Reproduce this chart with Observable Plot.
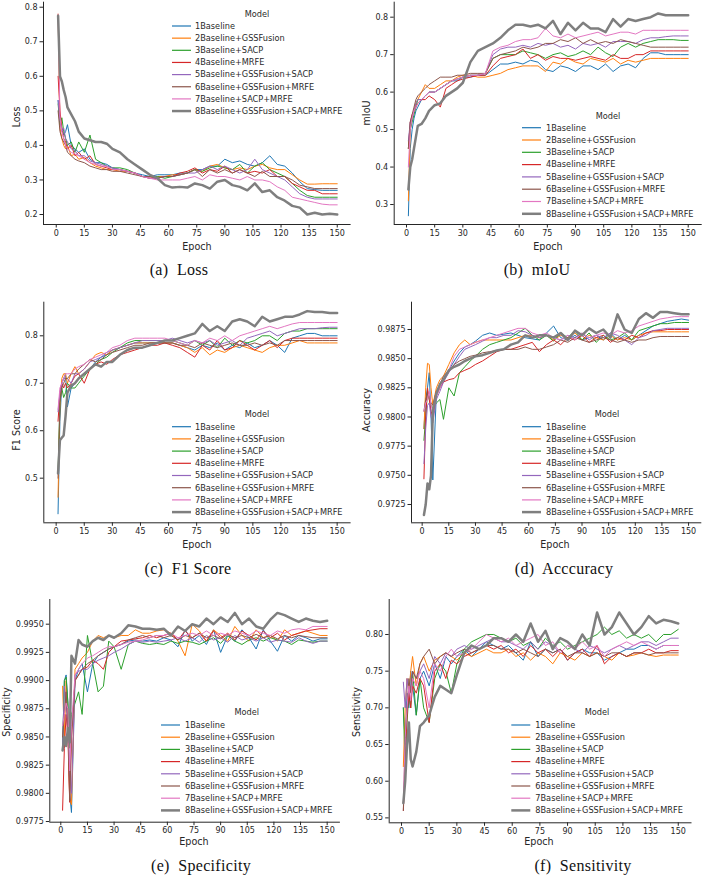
<!DOCTYPE html>
<html><head><meta charset="utf-8">
<script src="https://cdn.jsdelivr.net/npm/d3@7"></script>
<script src="https://cdn.jsdelivr.net/npm/@observablehq/plot@0.6"></script>
<style>
body{margin:0;background:#fff;}
#root{position:relative;width:704px;height:883px;overflow:hidden;font-family:"DejaVu Sans",sans-serif;color:#262626;}
.abs{position:absolute;}
.axl{position:absolute;font-size:9.6px;white-space:nowrap;line-height:1;}
.cap{position:absolute;font-family:"Liberation Serif",serif;font-size:16px;white-space:pre;line-height:1;color:#111;letter-spacing:0.3px;}
</style></head>
<body><div id="root"></div>
<script>
// ---------- data ----------
const epochs = [1,2,3,4,5,6,8,10,12,15,18,21,24,27,30,34,38,42,46,50,54,58,62,66,70,74,78,82,86,90,94,98,102,106,110,114,118,122,126,130,134,138,142,146,150];
const models = ["1Baseline","2Baseline+GSSFusion","3Baseline+SACP","4Baseline+MRFE","5Baseline+GSSFusion+SACP","6Baseline+GSSFusion+MRFE","7Baseline+SACP+MRFE","8Baseline+GSSFusion+SACP+MRFE"];
const colors = ["#1f77b4","#ff7f0e","#2ca02c","#d62728","#9467bd","#8c564b","#e377c2","#7f7f7f"];
const xTicks = [0,15,30,45,60,75,90,105,120,135,150];

// (a) Loss
const loss1 = [0.53,0.47,0.45,0.43,0.44,0.46,0.40,0.39,0.38,0.39,0.36,0.35,0.35,0.345,0.335,0.33,0.325,0.32,0.315,0.31,0.315,0.315,0.315,0.32,0.32,0.33,0.33,0.34,0.34,0.36,0.35,0.355,0.345,0.34,0.35,0.37,0.345,0.34,0.32,0.295,0.275,0.272,0.27,0.27,0.27];
const loss2 = [0.78,0.45,0.42,0.40,0.39,0.40,0.37,0.375,0.36,0.365,0.35,0.34,0.335,0.33,0.33,0.325,0.325,0.32,0.31,0.305,0.31,0.31,0.315,0.315,0.32,0.33,0.325,0.34,0.345,0.335,0.33,0.335,0.33,0.34,0.345,0.335,0.33,0.33,0.315,0.30,0.288,0.288,0.289,0.289,0.289];
const loss3 = [0.52,0.46,0.48,0.44,0.42,0.40,0.41,0.38,0.41,0.38,0.43,0.36,0.35,0.34,0.335,0.335,0.33,0.32,0.31,0.31,0.31,0.305,0.31,0.315,0.32,0.33,0.325,0.335,0.34,0.335,0.33,0.345,0.32,0.34,0.35,0.33,0.32,0.31,0.29,0.27,0.255,0.25,0.25,0.25,0.25];
const loss4 = [0.60,0.50,0.45,0.42,0.41,0.39,0.40,0.37,0.38,0.36,0.37,0.345,0.34,0.335,0.33,0.33,0.325,0.32,0.31,0.305,0.305,0.31,0.31,0.32,0.325,0.335,0.32,0.33,0.325,0.34,0.32,0.33,0.32,0.325,0.32,0.33,0.31,0.31,0.29,0.28,0.27,0.27,0.26,0.26,0.26];
const loss5 = [0.53,0.47,0.44,0.45,0.42,0.41,0.39,0.385,0.37,0.37,0.355,0.35,0.345,0.34,0.335,0.33,0.325,0.32,0.31,0.305,0.305,0.31,0.31,0.315,0.32,0.32,0.33,0.34,0.33,0.34,0.33,0.32,0.33,0.36,0.33,0.32,0.31,0.30,0.28,0.26,0.25,0.245,0.245,0.245,0.245];
const loss6 = [0.50,0.44,0.42,0.41,0.40,0.38,0.37,0.36,0.355,0.35,0.34,0.335,0.33,0.33,0.325,0.325,0.32,0.315,0.31,0.31,0.305,0.31,0.31,0.315,0.32,0.33,0.31,0.33,0.32,0.33,0.32,0.33,0.32,0.31,0.325,0.31,0.31,0.31,0.30,0.285,0.28,0.275,0.275,0.275,0.275];
const loss7 = [0.78,0.48,0.44,0.42,0.40,0.39,0.38,0.375,0.37,0.36,0.35,0.345,0.34,0.34,0.33,0.33,0.325,0.32,0.31,0.305,0.30,0.30,0.30,0.30,0.305,0.31,0.30,0.315,0.31,0.31,0.305,0.30,0.31,0.30,0.30,0.295,0.28,0.27,0.25,0.245,0.24,0.235,0.23,0.228,0.228];
const loss8 = [0.775,0.60,0.585,0.56,0.54,0.51,0.49,0.47,0.44,0.42,0.415,0.41,0.41,0.405,0.39,0.38,0.36,0.345,0.33,0.315,0.305,0.285,0.278,0.28,0.278,0.29,0.285,0.275,0.295,0.30,0.285,0.28,0.27,0.29,0.265,0.27,0.25,0.24,0.225,0.22,0.20,0.205,0.20,0.202,0.20];

// (b) mIoU
const miou1 = [0.27,0.45,0.50,0.53,0.55,0.56,0.58,0.59,0.60,0.60,0.61,0.62,0.63,0.63,0.64,0.64,0.645,0.645,0.66,0.675,0.675,0.68,0.675,0.685,0.68,0.66,0.655,0.67,0.665,0.655,0.67,0.67,0.66,0.675,0.655,0.67,0.675,0.665,0.69,0.705,0.705,0.70,0.70,0.70,0.70];
const miou2 = [0.31,0.50,0.53,0.55,0.57,0.58,0.60,0.62,0.61,0.61,0.62,0.63,0.63,0.64,0.645,0.645,0.64,0.64,0.645,0.65,0.66,0.665,0.67,0.67,0.67,0.655,0.68,0.675,0.69,0.68,0.675,0.69,0.685,0.68,0.69,0.675,0.685,0.68,0.685,0.69,0.69,0.69,0.69,0.69,0.69];
const miou3 = [0.45,0.50,0.52,0.54,0.56,0.58,0.58,0.59,0.60,0.60,0.61,0.62,0.63,0.635,0.64,0.645,0.645,0.65,0.69,0.70,0.70,0.70,0.71,0.705,0.70,0.69,0.70,0.705,0.695,0.70,0.71,0.70,0.72,0.705,0.695,0.72,0.73,0.72,0.73,0.735,0.74,0.74,0.74,0.738,0.738];
const miou4 = [0.45,0.52,0.54,0.55,0.56,0.57,0.58,0.58,0.59,0.58,0.56,0.61,0.62,0.63,0.635,0.64,0.645,0.645,0.67,0.69,0.695,0.70,0.715,0.69,0.70,0.685,0.695,0.69,0.69,0.685,0.69,0.695,0.69,0.685,0.70,0.69,0.69,0.70,0.70,0.71,0.71,0.71,0.71,0.71,0.71];
const miou5 = [0.47,0.52,0.53,0.55,0.57,0.58,0.58,0.59,0.60,0.60,0.61,0.62,0.63,0.635,0.64,0.645,0.645,0.65,0.70,0.715,0.72,0.72,0.725,0.72,0.73,0.725,0.73,0.72,0.725,0.715,0.73,0.725,0.73,0.72,0.735,0.735,0.735,0.73,0.74,0.745,0.745,0.748,0.75,0.75,0.75];
const miou6 = [0.45,0.52,0.54,0.56,0.58,0.59,0.60,0.61,0.62,0.63,0.64,0.64,0.64,0.645,0.645,0.65,0.65,0.65,0.69,0.70,0.705,0.71,0.72,0.715,0.72,0.73,0.73,0.74,0.735,0.745,0.73,0.74,0.73,0.735,0.73,0.74,0.735,0.73,0.725,0.72,0.72,0.72,0.72,0.72,0.72];
const miou7 = [0.40,0.50,0.53,0.55,0.56,0.57,0.58,0.59,0.60,0.60,0.61,0.62,0.63,0.635,0.64,0.645,0.645,0.65,0.71,0.72,0.725,0.735,0.74,0.74,0.745,0.77,0.75,0.745,0.755,0.745,0.75,0.755,0.76,0.75,0.755,0.76,0.76,0.755,0.765,0.765,0.765,0.765,0.765,0.765,0.765];
const miou8 = [0.34,0.40,0.42,0.45,0.48,0.51,0.515,0.53,0.55,0.565,0.57,0.59,0.60,0.61,0.625,0.68,0.71,0.72,0.73,0.745,0.765,0.78,0.78,0.775,0.78,0.77,0.79,0.755,0.785,0.765,0.785,0.77,0.77,0.76,0.795,0.775,0.795,0.79,0.795,0.80,0.81,0.805,0.805,0.805,0.805];

// (c) F1 Score
const f1_1 = [0.425,0.62,0.70,0.71,0.72,0.65,0.69,0.70,0.71,0.72,0.73,0.745,0.755,0.76,0.77,0.775,0.78,0.785,0.785,0.785,0.785,0.785,0.785,0.78,0.775,0.77,0.78,0.775,0.785,0.77,0.78,0.775,0.785,0.775,0.78,0.79,0.78,0.765,0.795,0.80,0.805,0.805,0.80,0.80,0.80];
const f1_2 = [0.46,0.65,0.71,0.72,0.72,0.70,0.72,0.735,0.72,0.73,0.745,0.76,0.765,0.76,0.77,0.775,0.78,0.785,0.785,0.785,0.785,0.785,0.785,0.78,0.775,0.765,0.775,0.76,0.77,0.765,0.775,0.78,0.775,0.77,0.765,0.775,0.78,0.78,0.785,0.79,0.785,0.785,0.785,0.785,0.785];
const f1_3 = [0.51,0.66,0.69,0.67,0.68,0.70,0.69,0.69,0.70,0.715,0.73,0.74,0.75,0.755,0.765,0.775,0.785,0.79,0.79,0.79,0.79,0.79,0.79,0.785,0.78,0.79,0.78,0.79,0.775,0.795,0.78,0.79,0.785,0.79,0.80,0.80,0.79,0.805,0.81,0.81,0.815,0.815,0.815,0.815,0.815];
const f1_4 = [0.62,0.68,0.70,0.69,0.70,0.69,0.70,0.715,0.72,0.70,0.73,0.74,0.745,0.74,0.75,0.76,0.765,0.77,0.775,0.78,0.78,0.785,0.78,0.775,0.765,0.755,0.78,0.77,0.79,0.77,0.775,0.79,0.78,0.77,0.78,0.79,0.775,0.79,0.795,0.795,0.795,0.795,0.795,0.795,0.795];
const f1_5 = [0.64,0.68,0.70,0.71,0.71,0.71,0.70,0.72,0.72,0.73,0.745,0.75,0.755,0.765,0.77,0.775,0.78,0.785,0.79,0.79,0.79,0.79,0.795,0.79,0.785,0.79,0.785,0.79,0.78,0.785,0.79,0.78,0.795,0.80,0.805,0.81,0.80,0.805,0.81,0.815,0.815,0.815,0.817,0.818,0.818];
const f1_6 = [0.50,0.66,0.69,0.70,0.71,0.71,0.72,0.72,0.73,0.74,0.75,0.745,0.75,0.76,0.765,0.77,0.775,0.78,0.78,0.785,0.785,0.785,0.785,0.78,0.78,0.775,0.785,0.78,0.775,0.78,0.785,0.78,0.78,0.785,0.78,0.785,0.78,0.79,0.79,0.79,0.79,0.79,0.79,0.79,0.79];
const f1_7 = [0.645,0.69,0.70,0.71,0.72,0.72,0.72,0.73,0.735,0.74,0.75,0.755,0.76,0.765,0.775,0.78,0.79,0.795,0.795,0.795,0.795,0.795,0.79,0.785,0.78,0.79,0.785,0.795,0.79,0.80,0.79,0.80,0.805,0.81,0.815,0.82,0.815,0.82,0.825,0.828,0.828,0.828,0.828,0.828,0.828];
const f1_8 = [0.51,0.58,0.585,0.59,0.63,0.68,0.695,0.70,0.71,0.72,0.73,0.74,0.735,0.745,0.745,0.76,0.77,0.775,0.775,0.78,0.785,0.79,0.79,0.795,0.80,0.805,0.825,0.81,0.82,0.81,0.83,0.835,0.83,0.82,0.84,0.83,0.835,0.84,0.84,0.845,0.852,0.85,0.85,0.848,0.848];

// (d) Accuracy
const acc1 = [0.9790,0.9815,0.9825,0.9838,0.9800,0.9746,0.9820,0.9828,0.9832,0.9840,0.9848,0.9855,0.9860,0.9862,0.9865,0.9870,0.9872,0.9870,0.9871,0.9872,0.9870,0.9868,0.9867,0.9866,0.9872,0.9878,0.9868,0.9866,0.9870,0.9866,0.9868,0.9870,0.9866,0.9872,0.9866,0.9870,0.9866,0.9870,0.9874,0.9878,0.9880,0.9882,0.9883,0.9884,0.9883];
const acc2 = [0.9790,0.9825,0.9846,0.9845,0.9825,0.9810,0.9825,0.9832,0.9835,0.9845,0.9855,0.9862,0.9866,0.9862,0.9864,0.9866,0.9866,0.9866,0.9866,0.9866,0.9868,0.9870,0.9870,0.9868,0.9870,0.9866,0.9870,0.9868,0.9872,0.9866,0.9870,0.9868,0.9866,0.9870,0.9866,0.9868,0.9866,0.9870,0.9872,0.9873,0.9873,0.9873,0.9873,0.9873,0.9873];
const acc3 = [0.9780,0.9800,0.9822,0.9815,0.9810,0.9808,0.9812,0.9815,0.9798,0.9825,0.9818,0.9838,0.9843,0.9848,0.9852,0.9858,0.9862,0.9864,0.9866,0.9868,0.9872,0.9876,0.9870,0.9866,0.9870,0.9865,0.9872,0.9868,0.9874,0.9866,0.9872,0.9864,0.9870,0.9866,0.9868,0.9872,0.9866,0.9874,0.9876,0.9878,0.9880,0.9880,0.9881,0.9881,0.9881];
const acc4 = [0.9747,0.9800,0.9825,0.9815,0.9805,0.9800,0.9818,0.9825,0.9830,0.9832,0.9833,0.9838,0.9840,0.9842,0.9845,0.9848,0.9852,0.9856,0.9858,0.9858,0.9860,0.9862,0.9864,0.9856,0.9862,0.9866,0.9862,0.9868,0.9866,0.9870,0.9864,0.9868,0.9870,0.9864,0.9868,0.9866,0.9870,0.9868,0.9872,0.9874,0.9874,0.9875,0.9875,0.9875,0.9875];
const acc5 = [0.9760,0.9790,0.9810,0.9812,0.9800,0.9795,0.9815,0.9822,0.9830,0.9838,0.9845,0.9852,0.9858,0.9860,0.9862,0.9865,0.9868,0.9868,0.9870,0.9870,0.9874,0.9873,0.9870,0.9868,0.9870,0.9868,0.9866,0.9870,0.9868,0.9872,0.9866,0.9870,0.9868,0.9872,0.9870,0.9866,0.9862,0.9868,0.9870,0.9874,0.9875,0.9876,0.9876,0.9876,0.9876];
const acc6 = [0.9805,0.9815,0.9820,0.9818,0.9812,0.9810,0.9822,0.9828,0.9835,0.9840,0.9845,0.9848,0.9850,0.9852,0.9853,0.9855,0.9856,0.9857,0.9858,0.9858,0.9858,0.9860,0.9858,0.9858,0.9860,0.9862,0.9866,0.9864,0.9868,0.9866,0.9864,0.9866,0.9868,0.9866,0.9864,0.9866,0.9864,0.9866,0.9866,0.9868,0.9869,0.9869,0.9869,0.9869,0.9869];
const acc7 = [0.9805,0.9812,0.9815,0.9822,0.9810,0.9805,0.9818,0.9825,0.9832,0.9840,0.9852,0.9858,0.9860,0.9862,0.9864,0.9866,0.9868,0.9870,0.9872,0.9874,0.9876,0.9876,0.9872,0.9870,0.9872,0.9868,0.9866,0.9870,0.9866,0.9872,0.9868,0.9870,0.9872,0.9870,0.9874,0.9872,0.9874,0.9878,0.9880,0.9882,0.9884,0.9885,0.9886,0.9886,0.9886];
const acc8 = [0.9716,0.9725,0.9743,0.9738,0.9750,0.9805,0.9820,0.9828,0.9832,0.9840,0.9843,0.9845,0.9848,0.9850,0.9852,0.9853,0.9855,0.9857,0.9858,0.9862,0.9864,0.9870,0.9868,0.9870,0.9870,0.9868,0.9872,0.9866,0.9874,0.9870,0.9876,0.9872,0.9875,0.9868,0.9888,0.9875,0.9872,0.9884,0.9889,0.9885,0.9890,0.9890,0.9889,0.9888,0.9888];

// (e) Specificity
const spec1 = [0.9840,0.9900,0.9905,0.9880,0.9800,0.9783,0.9900,0.9910,0.9915,0.9890,0.9915,0.9922,0.9925,0.9928,0.9930,0.9932,0.9935,0.9936,0.9935,0.9936,0.9935,0.9938,0.9936,0.9930,0.9945,0.9935,0.9940,0.9932,0.9945,0.9925,0.9940,0.9935,0.9945,0.9938,0.9928,0.9945,0.9935,0.9926,0.9940,0.9935,0.9940,0.9938,0.9935,0.9937,0.9937];
const spec2 = [0.9895,0.9850,0.9900,0.9860,0.9795,0.9790,0.9910,0.9915,0.9920,0.9925,0.9935,0.9940,0.9938,0.9940,0.9938,0.9940,0.9940,0.9945,0.9942,0.9942,0.9944,0.9945,0.9942,0.9935,0.9922,0.9950,0.9944,0.9935,0.9945,0.9940,0.9935,0.9948,0.9940,0.9935,0.9945,0.9938,0.9940,0.9935,0.9945,0.9940,0.9942,0.9944,0.9942,0.9940,0.9940];
const spec3 = [0.9840,0.9900,0.9903,0.9880,0.9840,0.9870,0.9880,0.9890,0.9870,0.9940,0.9915,0.9890,0.9895,0.9935,0.9930,0.9910,0.9932,0.9935,0.9933,0.9932,0.9933,0.9932,0.9935,0.9933,0.9935,0.9934,0.9932,0.9935,0.9938,0.9933,0.9940,0.9935,0.9932,0.9936,0.9938,0.9935,0.9938,0.9936,0.9935,0.9932,0.9936,0.9935,0.9934,0.9935,0.9935];
const spec4 = [0.9785,0.9840,0.9870,0.9850,0.9792,0.9850,0.9900,0.9905,0.9910,0.9912,0.9918,0.9915,0.9910,0.9925,0.9930,0.9935,0.9936,0.9937,0.9938,0.9940,0.9938,0.9940,0.9942,0.9936,0.9944,0.9938,0.9942,0.9935,0.9944,0.9938,0.9942,0.9936,0.9944,0.9940,0.9936,0.9944,0.9938,0.9942,0.9936,0.9940,0.9942,0.9944,0.9945,0.9946,0.9946];
const spec5 = [0.9840,0.9895,0.9880,0.9855,0.9820,0.9800,0.9905,0.9908,0.9910,0.9910,0.9915,0.9918,0.9920,0.9922,0.9925,0.9928,0.9932,0.9935,0.9934,0.9935,0.9934,0.9935,0.9936,0.9938,0.9935,0.9938,0.9934,0.9940,0.9936,0.9938,0.9934,0.9940,0.9936,0.9938,0.9935,0.9938,0.9934,0.9936,0.9935,0.9934,0.9938,0.9935,0.9933,0.9935,0.9935];
const spec6 = [0.9850,0.9870,0.9890,0.9860,0.9793,0.9850,0.9900,0.9905,0.9910,0.9915,0.9918,0.9922,0.9925,0.9928,0.9930,0.9932,0.9936,0.9938,0.9940,0.9938,0.9940,0.9938,0.9940,0.9936,0.9940,0.9938,0.9942,0.9938,0.9940,0.9937,0.9941,0.9938,0.9940,0.9938,0.9941,0.9938,0.9940,0.9937,0.9940,0.9938,0.9940,0.9939,0.9938,0.9938,0.9938];
const spec7 = [0.9860,0.9870,0.9880,0.9875,0.9820,0.9860,0.9905,0.9910,0.9915,0.9920,0.9922,0.9925,0.9928,0.9930,0.9930,0.9932,0.9934,0.9935,0.9936,0.9938,0.9940,0.9940,0.9942,0.9938,0.9940,0.9942,0.9940,0.9944,0.9940,0.9942,0.9940,0.9944,0.9942,0.9940,0.9944,0.9942,0.9940,0.9944,0.9942,0.9945,0.9946,0.9945,0.9948,0.9948,0.9948];
const spec8 = [0.9838,0.9850,0.9842,0.9858,0.9845,0.9922,0.9915,0.9936,0.9932,0.9930,0.9935,0.9938,0.9936,0.9940,0.9938,0.9942,0.9949,0.9948,0.9946,0.9946,0.9945,0.9946,0.9940,0.9948,0.9944,0.9950,0.9948,0.9955,0.9950,0.9956,0.9952,0.9960,0.9950,0.9955,0.9948,0.9946,0.9954,0.9960,0.9958,0.9955,0.9952,0.9955,0.9953,0.9952,0.9953];

// (f) Sensitivity
const sens1 = [0.70,0.65,0.72,0.70,0.75,0.73,0.69,0.74,0.75,0.73,0.76,0.74,0.77,0.76,0.77,0.78,0.77,0.78,0.79,0.785,0.78,0.785,0.775,0.765,0.79,0.77,0.78,0.775,0.78,0.765,0.775,0.78,0.775,0.775,0.765,0.77,0.775,0.78,0.78,0.785,0.785,0.78,0.785,0.785,0.785];
const sens2 = [0.62,0.70,0.74,0.72,0.75,0.77,0.73,0.76,0.77,0.75,0.765,0.77,0.775,0.77,0.765,0.775,0.77,0.775,0.78,0.775,0.775,0.78,0.77,0.775,0.765,0.775,0.77,0.76,0.775,0.77,0.765,0.775,0.77,0.775,0.77,0.765,0.775,0.77,0.772,0.775,0.772,0.77,0.772,0.772,0.772];
const sens3 = [0.70,0.62,0.68,0.72,0.70,0.75,0.69,0.74,0.70,0.68,0.74,0.76,0.75,0.72,0.76,0.78,0.79,0.795,0.80,0.80,0.795,0.79,0.795,0.785,0.79,0.78,0.795,0.785,0.79,0.78,0.785,0.79,0.795,0.80,0.81,0.80,0.805,0.795,0.80,0.795,0.80,0.79,0.80,0.80,0.807];
const sens4 = [0.56,0.62,0.69,0.72,0.70,0.73,0.72,0.74,0.73,0.68,0.75,0.76,0.74,0.765,0.76,0.77,0.775,0.78,0.785,0.78,0.785,0.775,0.78,0.77,0.785,0.775,0.78,0.77,0.78,0.765,0.775,0.78,0.77,0.785,0.76,0.77,0.775,0.77,0.775,0.775,0.78,0.775,0.775,0.778,0.778];
const sens5 = [0.735,0.70,0.74,0.72,0.73,0.75,0.74,0.75,0.76,0.74,0.77,0.76,0.775,0.77,0.78,0.785,0.78,0.785,0.79,0.795,0.79,0.79,0.785,0.78,0.79,0.78,0.79,0.785,0.775,0.785,0.78,0.775,0.785,0.78,0.775,0.78,0.785,0.78,0.785,0.79,0.79,0.785,0.79,0.795,0.795];
const sens6 = [0.56,0.66,0.70,0.74,0.72,0.75,0.74,0.76,0.77,0.78,0.76,0.77,0.775,0.77,0.775,0.78,0.775,0.78,0.785,0.785,0.78,0.78,0.775,0.78,0.775,0.77,0.78,0.775,0.78,0.77,0.775,0.775,0.77,0.775,0.77,0.775,0.775,0.77,0.775,0.775,0.772,0.775,0.775,0.775,0.775];
const sens7 = [0.57,0.66,0.70,0.73,0.71,0.74,0.73,0.75,0.74,0.70,0.76,0.75,0.77,0.78,0.77,0.775,0.78,0.79,0.80,0.795,0.79,0.795,0.785,0.79,0.795,0.80,0.785,0.79,0.775,0.785,0.78,0.79,0.78,0.785,0.77,0.78,0.785,0.79,0.785,0.79,0.785,0.78,0.785,0.785,0.785];
const sens8 = [0.57,0.60,0.65,0.68,0.63,0.62,0.64,0.675,0.68,0.69,0.715,0.73,0.725,0.72,0.745,0.775,0.785,0.78,0.785,0.795,0.795,0.79,0.80,0.79,0.815,0.79,0.805,0.78,0.795,0.79,0.78,0.80,0.785,0.83,0.80,0.81,0.83,0.815,0.80,0.81,0.825,0.815,0.82,0.818,0.815];

// tick labels
const lossTicks = [0.2,0.3,0.4,0.5,0.6,0.7,0.8];
const miouTicks = [0.3,0.4,0.5,0.6,0.7,0.8];
const f1Ticks = [0.5,0.6,0.7,0.8];
const accTicks = [0.9725,0.975,0.9775,0.98,0.9825,0.985,0.9875];
const specTicks = [0.9775,0.98,0.9825,0.985,0.9875,0.99,0.9925,0.995];
const sensTicks = [0.55,0.6,0.65,0.7,0.75,0.8];

// ---------- layout ----------
const panels = [
  {series:[loss1,loss2,loss3,loss4,loss5,loss6,loss7,loss8], ticks:lossTicks, fmt:".1f", ylabel:"Loss", caption:"(a)  Loss",
   left:0, top:0, w:352, h:260, mL:43, mR:1.4, mT:1.7, mB:36, xd:[-6.8,157.4], yd:[0.1711,0.8145],
   yl:[17,117], xl:[197,247], cap:[179,270], lg:{tx:257,ty:14,ry:26,dy:12.15,s0:172,s1:191,t:195}},
  {series:[miou1,miou2,miou3,miou4,miou5,miou6,miou7,miou8], ticks:miouTicks, fmt:".1f", ylabel:"mIoU", caption:"(b)  mIoU",
   left:352, top:0, w:352, h:260, mL:41.7, mR:2.3, mT:1.7, mB:36, xd:[-6.55,157.45], yd:[0.2467,0.840],
   yl:[367,113], xl:[548,247], cap:[537,270], lg:{tx:608,ty:116,ry:127.7,dy:12.3,s0:522,s1:541,t:546}},
  {series:[f1_1,f1_2,f1_3,f1_4,f1_5,f1_6,f1_7,f1_8], ticks:f1Ticks, fmt:".1f", ylabel:"F1 Score", caption:"(c)  F1 Score",
   left:0, top:290, w:352, h:270, mL:43.3, mR:1.4, mT:11.7, mB:37.7, xd:[-6.6,157.45], yd:[0.406,0.8708],
   yl:[17,430], xl:[197,545], cap:[188,569], lg:{tx:257,ty:414.3,ry:426.7,dy:12.2,s0:172,s1:191,t:195}},
  {series:[acc1,acc2,acc3,acc4,acc5,acc6,acc7,acc8], ticks:accTicks, fmt:".4f", ylabel:"Accuracy", caption:"(d)  Acccuracy",
   left:352, top:290, w:352, h:270, mL:59, mR:2.7, mT:11.7, mB:37.7, xd:[-6.0,157.45], yd:[0.97093,0.98984],
   yl:[367,410], xl:[555,545], cap:[564,569], lg:{tx:607,ty:414.3,ry:426.7,dy:12.2,s0:522,s1:541,t:546}},
  {series:[spec1,spec2,spec3,spec4,spec5,spec6,spec7,spec8], ticks:specTicks, fmt:".4f", ylabel:"Specificity", caption:"(e)  Specificity",
   left:0, top:585, w:352, h:270, mL:49.3, mR:12.1, mT:14, mB:33.3, xd:[-6.2,157.45], yd:[0.97744,0.99719],
   yl:[7,712], xl:[194,842], cap:[201,866], lg:{tx:246.7,ty:712.3,ry:725,dy:12.2,s0:161,s1:180,t:185}},
  {series:[sens1,sens2,sens3,sens4,sens5,sens6,sens7,sens8], ticks:sensTicks, fmt:".2f", ylabel:"Sensitivity", caption:"(f)  Sensitivity",
   left:352, top:585, w:352, h:270, mL:36.7, mR:12.5, mT:14, mB:32.7, xd:[-6.67,157.45], yd:[0.5433,0.8477],
   yl:[357,712], xl:[539,842], cap:[583,866], lg:{tx:597,ty:712.3,ry:725,dy:12.2,s0:511.3,s1:530.3,t:535.3}}
];

const root = document.getElementById("root");
function el(cls, css, text){
  const d = document.createElement("div");
  d.className = cls;
  Object.assign(d.style, css);
  if (text != null) d.textContent = text;
  root.appendChild(d);
  return d;
}
const ink = "#262626";

for (const p of panels){
  const marks = [
    Plot.ruleX([p.xd[0]], {stroke: ink, strokeWidth: 1}),
    Plot.ruleY([p.yd[0]], {stroke: ink, strokeWidth: 1}),
    Plot.axisX({ticks: xTicks, tickSize: 3.5, tickPadding: 2, tickFormat: d3.format("d"), label: null}),
    Plot.axisY({ticks: p.ticks, tickSize: 3.5, tickPadding: 2.5, tickFormat: d3.format(p.fmt), label: null})
  ];
  p.series.forEach((vals, i) => {
    const data = epochs.map((e, j) => ({epoch: e, value: vals[j]}));
    marks.push(Plot.line(data, {x: "epoch", y: "value", stroke: colors[i], strokeWidth: i === 7 ? 2.5 : 1}));
  });
  const svg = Plot.plot({
    width: p.w, height: p.h,
    marginLeft: p.mL, marginRight: p.mR, marginTop: p.mT, marginBottom: p.mB,
    style: {fontFamily: "DejaVu Sans", fontSize: "8px", color: ink, background: "transparent", overflow: "visible"},
    x: {domain: p.xd},
    y: {domain: p.yd},
    marks
  });
  const wrap = el("abs", {left: p.left + "px", top: p.top + "px"});
  wrap.appendChild(svg);

  el("axl", {left: p.yl[0] + "px", top: p.yl[1] + "px", transform: "translate(-50%,-50%) rotate(-90deg)"}, p.ylabel);
  el("axl", {left: p.xl[0] + "px", top: p.xl[1] + "px", transform: "translate(-50%,-50%)"}, "Epoch");
  el("cap", {left: p.cap[0] + "px", top: p.cap[1] + "px", transform: "translate(-50%,-50%)"}, p.caption);
}

// legends drawn in one overlay svg
const ov = d3.select(root).append("svg")
  .attr("width", 704).attr("height", 883)
  .style("position", "absolute").style("left", "0px").style("top", "0px")
  .style("pointer-events", "none")
  .attr("font-family", "DejaVu Sans").attr("font-size", 8.2).attr("fill", "#2a2a2a");
for (const p of panels){
  const L = p.lg;
  const g = ov.append("g");
  g.append("text").attr("x", L.tx).attr("y", L.ty).attr("text-anchor", "middle").attr("dy", "0.35em").text("Model");
  models.forEach((m, i) => {
    const y = L.ry + i * L.dy;
    g.append("line").attr("x1", L.s0).attr("x2", L.s1).attr("y1", y).attr("y2", y)
      .attr("stroke", colors[i]).attr("stroke-width", i === 7 ? 2.5 : 1.2);
    g.append("text").attr("x", L.t).attr("y", y).attr("dy", "0.35em").text(m);
  });
}
</script>
</body></html>
